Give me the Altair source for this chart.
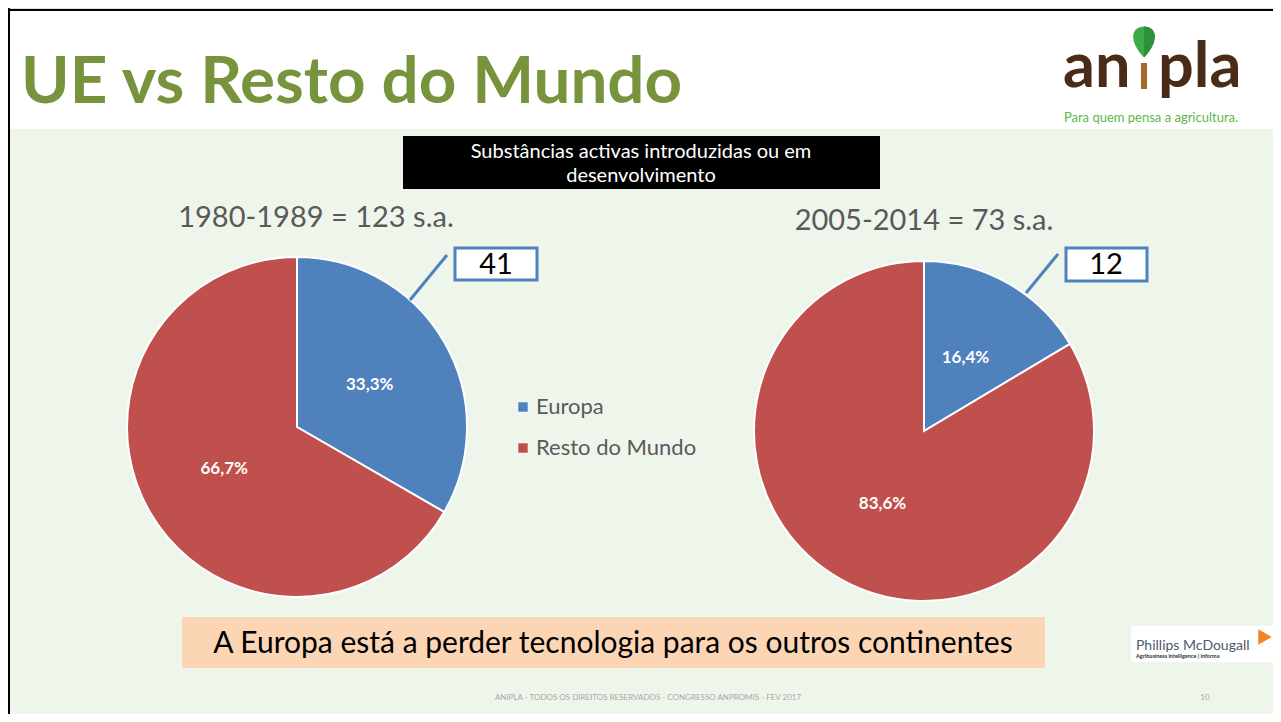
import altair as alt
import pandas as pd

# ---- data ----
categories = ["Europa", "Resto do Mundo"]
values_1980 = [41, 82]
values_2005 = [12, 61]
periods = ["1980-1989", "2005-2014"]
colors = ["#4F81BD", "#C0504D"]

W, H = 1265, 706
FONT = "Lato"


def pie_df(vals):
    tot = sum(vals)
    return pd.DataFrame({
        "cat": categories,
        "value": vals,
        "order": [0, 1],
        "label": [f"{v / tot * 100:.1f}%".replace(".", ",") for v in vals],
    })


def one(**kw):
    return alt.Chart(pd.DataFrame([kw]))


def text(t, x, y, size, color="black", align="center", baseline="alphabetic", weight="normal", font=FONT):
    return one(t=t).mark_text(
        font=font, fontSize=size, color=color, align=align, baseline=baseline, fontWeight=weight
    ).encode(text="t:N", x=alt.value(x), y=alt.value(y))


def rect(x, y, x2, y2, fill, stroke=None, sw=0):
    kw = dict(fill=fill)
    if stroke:
        kw.update(stroke=stroke, strokeWidth=sw)
    return one(a=0).mark_rect(**kw).encode(
        x=alt.value(x), x2=alt.value(x2), y=alt.value(y), y2=alt.value(y2)
    )


def rule(x, y, x2, y2, color, sw):
    return one(a=0).mark_rule(color=color, strokeWidth=sw).encode(
        x=alt.value(x), x2=alt.value(x2), y=alt.value(y), y2=alt.value(y2)
    )


color_enc = alt.Color(
    "cat:N",
    scale=alt.Scale(domain=categories, range=colors),
    legend=alt.Legend(
        orient="none", legendX=504, legendY=388, title=None, symbolType="square",
        symbolSize=110, labelFontSize=22, labelFont=FONT, labelColor="#595959",
        rowPadding=19, labelOffset=2, padding=0, symbolStrokeColor="white",
        symbolStrokeWidth=1, symbolOpacity=1, labelLimit=400,
    ),
)


def pie(vals, cx, cy):
    base = alt.Chart(pie_df(vals))
    arc = base.mark_arc(radius=170, stroke="white", strokeWidth=2).encode(
        x=alt.value(cx), y=alt.value(cy),
        theta=alt.Theta("value:Q", stack="normalize"),
        color=color_enc,
        order=alt.Order("order:Q"),
    )
    lbl = base.mark_text(radius=84, font=FONT, fontWeight="bold", fontSize=17, color="white").encode(
        x=alt.value(cx), y=alt.value(cy),
        theta=alt.Theta("value:Q", stack="normalize"),
        order=alt.Order("order:Q"),
        text="label:N",
    )
    return [arc, lbl]


leaf_path = "M0,1 C-0.5,0.5 -0.7,0 -0.7,-0.35 C-0.7,-0.75 -0.4,-1 0,-1 C0.4,-1 0.7,-0.75 0.7,-0.35 C0.7,0 0.5,0.5 0,1 Z"
leaf_right = "M0,1 L0,-1 C0.4,-1 0.7,-0.75 0.7,-0.35 C0.7,0 0.5,0.5 0,1 Z"

layers = [
    rect(0, 121, W, H, "#EEF6EC"),
    rule(0, 2, W, 2, "black", 2),
    rule(1, 0, 1, H, "black", 2),
    # title
    text("UE vs Resto do Mundo", 13, 95, 65.5, color="#77933C", align="left", weight="bold"),
    # logo
    text("an", 1055, 79, 63, color="#4A2B17", align="left", weight="bold"),
    text("pla", 1150, 79, 63, color="#4A2B17", align="left", weight="bold"),
    rule(1136, 55, 1136, 81, "#A4692B", 6),
    one(a=0).mark_point(shape=leaf_path, filled=True, color="#3DAA48", opacity=1, size=961).encode(
        x=alt.value(1136), y=alt.value(34)),
    one(a=0).mark_point(shape=leaf_right, filled=True, color="#2E8F3C", opacity=1, size=961).encode(
        x=alt.value(1136), y=alt.value(34)),
    text("Para quem pensa a agricultura.", 1143, 114, 13, color="#5BB947"),
    # black header box
    rect(395, 128, 872, 181, "black"),
    text("Substâncias activas introduzidas ou em", 633, 144, 20, color="white", baseline="middle"),
    text("desenvolvimento", 633, 168, 20, color="white", baseline="middle"),
    # pie titles
    text(f"{periods[0]} = {sum(values_1980)} s.a.", 308, 219, 29, color="#595959"),
    text(f"{periods[1]} = {sum(values_2005)} s.a.", 916, 222, 29, color="#595959"),
]
layers += pie(values_1980, 289, 419)
layers += pie(values_2005, 916, 423)
layers += [
    rule(439, 247, 402, 292, "#4F81BD", 3),
    rule(1050, 246, 1018, 285, "#4F81BD", 3),
    rect(447, 240, 529, 272, "white", "#4F81BD", 3),
    text(str(values_1980[0]), 488, 266, 29),
    rect(1058, 240, 1139, 273, "white", "#4F81BD", 3),
    text(str(values_2005[0]), 1098, 266, 29),
    # conclusion box
    rect(174, 609, 1037, 660, "#FCD5B5"),
    text("A Europa está a perder tecnologia para os outros continentes", 605, 636, 30, baseline="middle"),
    # Phillips McDougall logo
    rect(1123, 618, 1269, 654, "white"),
    text("Phillips McDougall", 1128, 642, 14, color="#4D5A6E", align="left"),
    text("Agribusiness intelligence | informa", 1128, 650, 5.5, color="#333333", align="left", weight="bold"),
    one(a=0).mark_point(shape="triangle-right", filled=True, color="#F58220", opacity=1, size=240).encode(
        x=alt.value(1257), y=alt.value(629)),
    # footer
    text("ANIPLA - TODOS OS DIREITOS RESERVADOS - CONGRESSO ANPROMIS - FEV 2017", 640, 692, 8, color="#A6A6A6"),
    text("10", 1197, 692, 8, color="#A6A6A6"),
]

chart = alt.layer(*layers).properties(
    width=W, height=H, padding=0, autosize=alt.AutoSizeParams(type="none")
).configure_view(stroke=None, fill="white").configure(background="white")

chart.save("out.html", embed_options={"renderer": "svg", "actions": False})
